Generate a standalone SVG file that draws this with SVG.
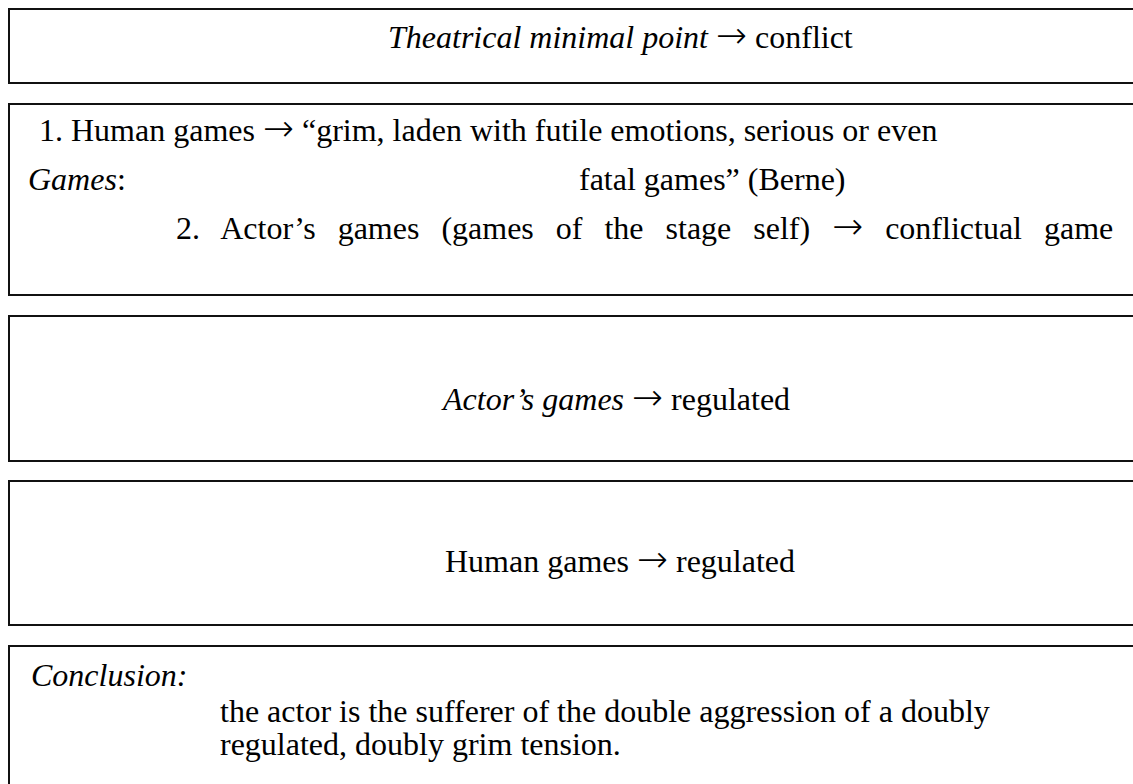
<svg xmlns="http://www.w3.org/2000/svg" width="1133" height="784" viewBox="0 0 1133 784">
<style>
.box{fill:#fff;stroke:#111;stroke-width:2}
text{font-family:"Liberation Serif","Times New Roman",serif;font-size:32px;fill:#000}
.i{font-style:italic}
.ar{font-family:"DejaVu Sans",sans-serif;font-size:37px;font-weight:200;font-style:normal}
</style>
<rect width="1133" height="784" fill="#fff"/>
<g id="box1">
<rect class="box" x="9" y="9" width="1140" height="74"/>
<text x="388" y="48"><tspan class="i">Theatrical minimal point</tspan> <tspan class="ar">→</tspan> conflict</text>
</g>
<g id="box2">
<rect class="box" x="9" y="104" width="1140" height="191"/>
<text x="39" y="141">1. Human games <tspan class="ar">→</tspan> “grim, laden with futile emotions, serious or even</text>
<text x="28" y="190"><tspan class="i">Games</tspan>:</text>
<text x="579" y="190">fatal games” (Berne)</text>
<text x="176" y="239" style="word-spacing:14px">2. Actor’s games (games of the stage self) <tspan class="ar">→</tspan> conflictual game</text>
</g>
<g id="box3">
<rect class="box" x="9" y="316" width="1140" height="145"/>
<text x="443" y="410"><tspan class="i">Actor’s games</tspan> <tspan class="ar">→</tspan> regulated</text>
</g>
<g id="box4">
<rect class="box" x="9" y="481" width="1140" height="144"/>
<text x="445" y="572">Human games <tspan class="ar">→</tspan> regulated</text>
</g>
<g id="box5">
<rect class="box" x="9" y="646" width="1140" height="160"/>
<text x="31" y="686" class="i">Conclusion:</text>
<text x="220" y="722">the actor is the sufferer of the double aggression of a doubly</text>
<text x="220" y="755">regulated, doubly grim tension.</text>
</g>
<g id="connectors"></g>
</svg>
